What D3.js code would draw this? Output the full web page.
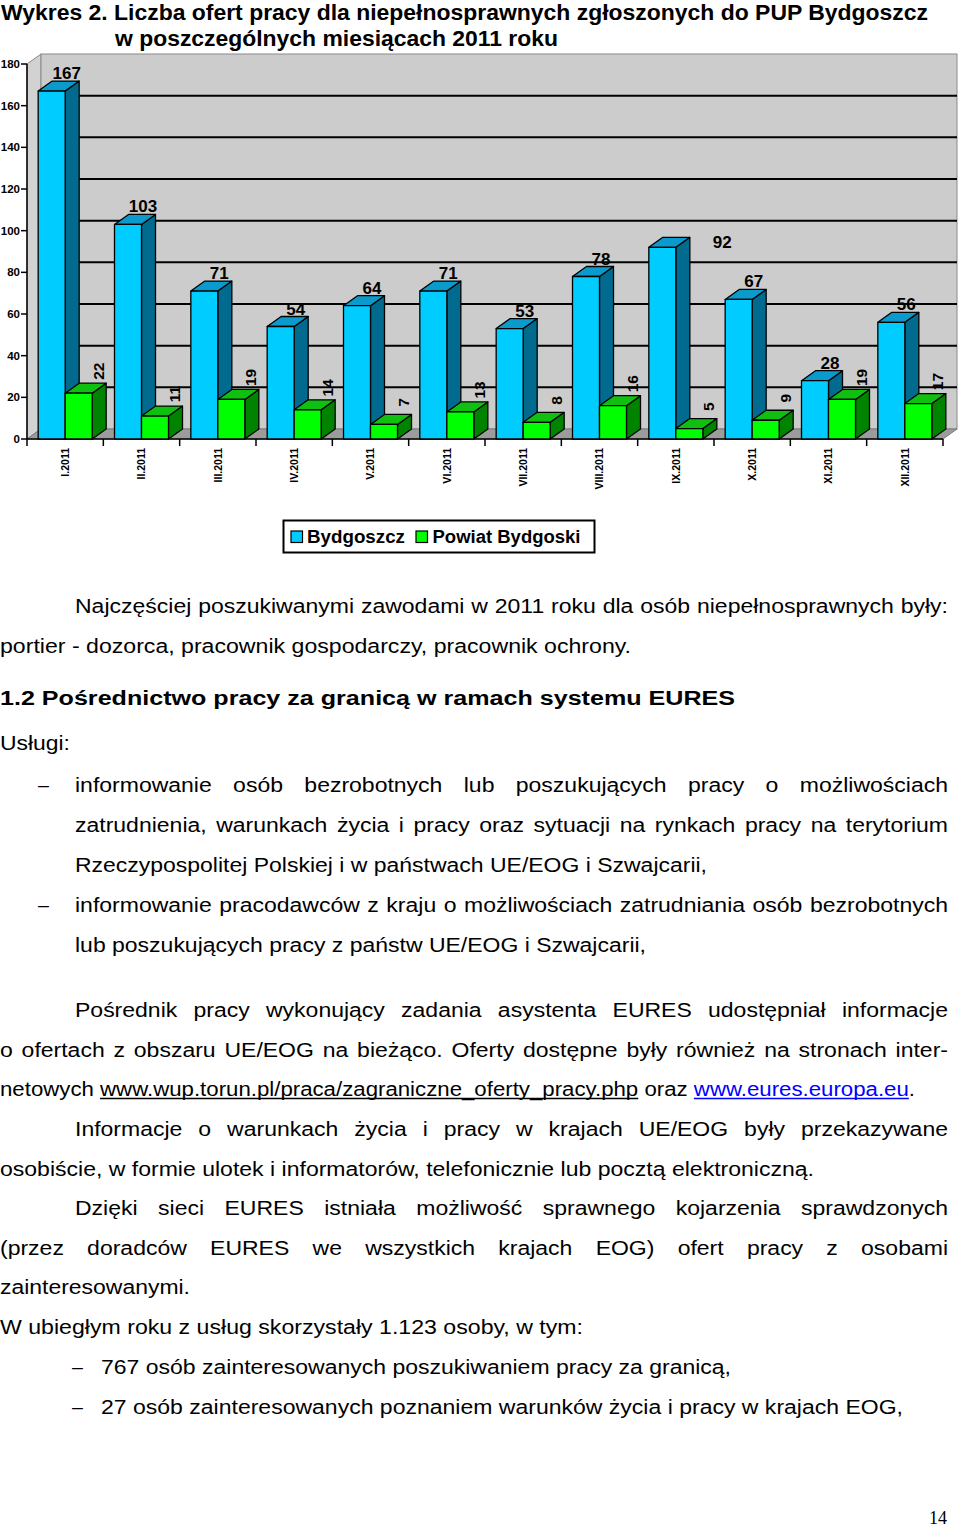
<!DOCTYPE html>
<html><head><meta charset="utf-8">
<script src="https://cdn.jsdelivr.net/npm/d3@7"></script>
<style>body{margin:0;background:#fff} svg{display:block}</style>
</head><body>
<svg id="c" width="960" height="1530"></svg>
<script>
// ---------- data ----------
const months = ["I.2011","II.2011","III.2011","IV.2011","V.2011","VI.2011","VII.2011","VIII.2011","IX.2011","X.2011","XI.2011","XII.2011"];
const bydgoszcz = [167,103,71,54,64,71,53,78,92,67,28,56];
const powiat = [22,11,19,14,7,13,8,16,5,9,19,17];
const seriesNames = ["Bydgoszcz","Powiat Bydgoski"];
const yTicks = [0,20,40,60,80,100,120,140,160,180];
const titleLines = ["Wykres 2. Liczba ofert pracy dla niepełnosprawnych zgłoszonych do PUP Bydgoszcz",
                    "w poszczególnych miesiącach 2011 roku"];

// ---------- body text (content + layout) ----------
const LINK1 = "www.wup.torun.pl/praca/zagraniczne_oferty_pracy.php";
const LINK2 = "www.eures.europa.eu";
const bodyLines = [
  {t:"Najczęściej poszukiwanymi zawodami w 2011 roku dla osób niepełnosprawnych były:", x0:75, x1:948, y:613, j:true},
  {t:"portier - dozorca, pracownik gospodarczy, pracownik ochrony.", x0:0, x1:631, y:653, j:false},
  {t:"1.2 Pośrednictwo pracy za granicą w ramach systemu EURES", x0:0, x1:735, y:705, j:false, bold:true},
  {t:"Usługi:", x0:0, x1:70, y:750, j:false},
  {t:"informowanie osób bezrobotnych lub poszukujących pracy o możliwościach", x0:75, x1:948, y:791.5, j:true, dash:38},
  {t:"zatrudnienia, warunkach życia i pracy oraz sytuacji na rynkach pracy na terytorium", x0:75, x1:948, y:831.5, j:true},
  {t:"Rzeczypospolitej Polskiej i w państwach UE/EOG i Szwajcarii,", x0:75, x1:707, y:871.5, j:false},
  {t:"informowanie pracodawców z kraju o możliwościach zatrudniania osób bezrobotnych", x0:75, x1:948, y:911.5, j:true, dash:38},
  {t:"lub poszukujących pracy z państw UE/EOG i Szwajcarii,", x0:75, x1:646, y:951.5, j:false},
  {t:"Pośrednik pracy wykonujący zadania asystenta EURES udostępniał informacje", x0:75, x1:948, y:1016.5, j:true},
  {t:"o ofertach z obszaru UE/EOG na bieżąco. Oferty dostępne były również na stronach inter-", x0:0, x1:948, y:1056.5, j:true},
  {words:["netowych",[{t:LINK1,u:true}],"oraz",[{t:LINK2,u:true,c:"#0000ff"},{t:"."}]], x0:0, x1:915, y:1096, j:false},
  {t:"Informacje o warunkach życia i pracy w krajach UE/EOG były przekazywane", x0:75, x1:948, y:1136, j:true},
  {t:"osobiście, w formie ulotek i informatorów, telefonicznie lub pocztą elektroniczną.", x0:0, x1:814, y:1176, j:false},
  {t:"Dzięki sieci EURES istniała możliwość sprawnego kojarzenia sprawdzonych", x0:75, x1:948, y:1215, j:true},
  {t:"(przez doradców EURES we wszystkich krajach EOG) ofert pracy z osobami", x0:0, x1:948, y:1255, j:true},
  {t:"zainteresowanymi.", x0:0, x1:190, y:1294, j:false},
  {t:"W ubiegłym roku z usług skorzystały 1.123 osoby, w tym:", x0:0, x1:583, y:1334, j:false},
  {t:"767 osób zainteresowanych poszukiwaniem pracy za granicą,", x0:101, x1:731, y:1374, j:false, dash:72},
  {t:"27 osób zainteresowanych poznaniem warunków życia i pracy w krajach EOG,", x0:101, x1:903, y:1414, j:false, dash:72}
];

// ---------- chart ----------
const svg = d3.select("#c");
const FONT = "'Liberation Sans', Arial, Helvetica, sans-serif";
const DX = 14, DY = -10;
const y = d3.scaleLinear().domain([0,180]).range([439,64]);
const x = d3.scaleBand().domain(months).range([27,943]).paddingInner(0.2926).paddingOuter(0.1463);
const xs = d3.scaleBand().domain(seriesNames).range([0, x.bandwidth()]);
const colors = {
  "Bydgoszcz": {front:"#00ccff", top:"#0a9bcc", side:"#006b8f"},
  "Powiat Bydgoski": {front:"#00ff00", top:"#10c010", side:"#008400"}
};
const labelNudge = {"IX.2011":[45,13]};
const xL = x.range()[0], xR = x.range()[1];

// title
const titleLayout = [{x:1, y:20, w:927},{x:115, y:46, w:443}];
svg.selectAll("text.title").data(titleLines).join("text").attr("class","title")
  .attr("x",(d,i)=>titleLayout[i].x).attr("y",(d,i)=>titleLayout[i].y)
  .attr("textLength",(d,i)=>titleLayout[i].w).attr("lengthAdjust","spacingAndGlyphs")
  .attr("font-family",FONT).attr("font-weight","bold").attr("font-size",22).text(d=>d);

const g = svg.append("g");
// side wall
g.append("path")
  .attr("d",`M${xL},${y(180)}L${xL+DX},${y(180)+DY}L${xL+DX},${y(0)+DY}L${xL},${y(0)}Z`)
  .attr("fill","#d2d2d2").attr("stroke","#8a8a8a");
// back wall
g.append("rect").attr("x",xL+DX).attr("y",y(180)+DY).attr("width",xR-xL).attr("height",y(0)-y(180))
  .attr("fill","#cccccc").attr("stroke","#8a8a8a");
// floor
g.append("path")
  .attr("d",`M${xL},${y(0)}L${xL+DX},${y(0)+DY}L${xR+DX},${y(0)+DY}L${xR},${y(0)}Z`)
  .attr("fill","#9c9c9c").attr("stroke","#7a7a7a");
// gridlines on back wall
g.selectAll("line.grid").data(yTicks.filter(v=>v>0 && v<180)).join("line").attr("class","grid")
  .attr("x1",xL+DX).attr("x2",xR+DX).attr("y1",d=>y(d)+DY).attr("y2",d=>y(d)+DY)
  .attr("stroke","#000").attr("stroke-width",2);

// y axis
g.append("line").attr("x1",xL).attr("x2",xL).attr("y1",y(180)).attr("y2",y(0)).attr("stroke","#000").attr("stroke-width",1.5);
g.selectAll("line.ytick").data(yTicks).join("line").attr("class","ytick")
  .attr("x1",xL-6).attr("x2",xL).attr("y1",d=>y(d)).attr("y2",d=>y(d)).attr("stroke","#000").attr("stroke-width",1.5);
g.selectAll("text.ylab").data(yTicks).join("text").attr("class","ylab")
  .attr("x",xL-7).attr("y",d=>y(d)).attr("dy","0.35em").attr("text-anchor","end")
  .attr("font-family",FONT).attr("font-weight","bold").attr("font-size",11.5).text(d=>d);

// x axis
g.append("line").attr("x1",xL).attr("x2",xR).attr("y1",y(0)).attr("y2",y(0)).attr("stroke","#000").attr("stroke-width",1.5);
const bounds = d3.range(months.length+1).map(i=>xL + i*x.step());
g.selectAll("line.xtick").data(bounds).join("line").attr("class","xtick")
  .attr("x1",d=>d).attr("x2",d=>d).attr("y1",y(0)).attr("y2",y(0)+7).attr("stroke","#000").attr("stroke-width",1.5);
g.selectAll("text.xlab").data(months).join("text").attr("class","xlab")
  .attr("transform",d=>`translate(${x(d)+x.bandwidth()/2},448) rotate(-90)`)
  .attr("dy","0.35em").attr("text-anchor","end")
  .attr("font-family",FONT).attr("font-weight","bold").attr("font-size",10.5).text(d=>d);

// bars
const rows = months.map((m,i)=>({m, vals:[{s:seriesNames[0],v:bydgoszcz[i]},{s:seriesNames[1],v:powiat[i]}]}));
const bars = g.append("g");
rows.forEach(r=>{
  r.vals.forEach(d=>{
    const x0 = x(r.m)+xs(d.s), w = xs.bandwidth(), top = y(d.v), bot = y(0);
    const c = colors[d.s];
    const bg = bars.append("g").attr("stroke","#000").attr("stroke-width",1.3).attr("stroke-linejoin","round");
    bg.append("path").attr("d",`M${x0+w},${top}L${x0+w+DX},${top+DY}L${x0+w+DX},${bot+DY}L${x0+w},${bot}Z`).attr("fill",c.side);
    bg.append("path").attr("d",`M${x0},${top}L${x0+DX},${top+DY}L${x0+w+DX},${top+DY}L${x0+w},${top}Z`).attr("fill",c.top);
    bg.append("rect").attr("x",x0).attr("y",top).attr("width",w).attr("height",bot-top).attr("fill",c.front);
  });
});
// value labels
const lab = g.append("g").attr("font-family",FONT).attr("font-weight","bold");
rows.forEach(r=>{
  const b = r.vals[0], p = r.vals[1];
  const w = xs.bandwidth();
  const nb = labelNudge[r.m] || [0,0];
  lab.append("text").attr("x",x(r.m)+xs(b.s)+w/2+15+nb[0]).attr("y",y(b.v)-12+nb[1])
    .attr("text-anchor","middle").attr("font-size",17).text(b.v);
  lab.append("text").attr("transform",`translate(${x(r.m)+xs(p.s)+w+6},${y(p.v)-22}) rotate(-90)`)
    .attr("dy","0.35em").attr("text-anchor","middle").attr("font-size",15.5).text(p.v);
});

// legend
const lg = svg.append("g");
lg.append("rect").attr("x",283.5).attr("y",520.5).attr("width",311).attr("height",32).attr("fill","#fff").attr("stroke","#000").attr("stroke-width",2);
const legLayout = [{sx:291, tx:307, tw:98},{sx:416, tx:432.5, tw:148}];
seriesNames.forEach((s,i)=>{
  lg.append("rect").attr("x",legLayout[i].sx).attr("y",531).attr("width",11.5).attr("height",11.5)
    .attr("fill",colors[s].front).attr("stroke","#000").attr("stroke-width",1.2);
  lg.append("text").attr("x",legLayout[i].tx).attr("y",543).attr("textLength",legLayout[i].tw).attr("lengthAdjust","spacingAndGlyphs")
    .attr("font-family",FONT).attr("font-weight","bold").attr("font-size",17.5).text(s);
});

// ---------- body text ----------
const BODY_SIZE = 19.6;
const measurer = svg.append("text").attr("font-family",FONT).attr("visibility","hidden");
function mw(str,bold){
  measurer.attr("font-size",BODY_SIZE).attr("font-weight",bold?"bold":"normal").text(str);
  return measurer.node().getComputedTextLength();
}
const prepared = bodyLines.map(L=>{
  const words = (L.words || L.t.split(" ")).map(w=>{
    const segs = typeof w === "string" ? [{t:w}] : w;
    segs.forEach(s=>s.w = mw(s.t, L.bold));
    return {segs, w:d3.sum(segs,s=>s.w)};
  });
  return {L, words, sumW:d3.sum(words,w=>w.w), space:mw("a a",L.bold)-mw("aa",L.bold)};
});
const scales = prepared.filter(p=>!p.L.j && !p.L.bold && p.words.length>1)
  .map(p=>(p.L.x1-p.L.x0)/(p.sumW + (p.words.length-1)*p.space));
const SX = d3.median(scales);
const body = svg.append("g").attr("font-family",FONT).attr("font-size",BODY_SIZE);
prepared.forEach(p=>{
  const L = p.L, n = p.words.length;
  // justified lines use the common glyph scale; ragged lines fit their own natural width
  let sx = L.j ? SX : (L.x1-L.x0)/(p.sumW+(n-1)*p.space);
  if(n===1) sx = (L.x1-L.x0)/p.sumW;
  const gap = n>1 ? (L.x1-L.x0 - sx*p.sumW)/(n-1) : 0;
  let cx = L.x0;
  if(L.dash!==undefined){
    body.append("text").attr("x",L.dash).attr("y",L.y).text("–");
  }
  p.words.forEach(w=>{
    w.segs.forEach(s=>{
      const ww = s.w*sx;
      body.append("text").attr("x",cx).attr("y",L.y)
        .attr("textLength",ww).attr("lengthAdjust","spacingAndGlyphs")
        .attr("font-weight",L.bold?"bold":"normal")
        .attr("fill",s.c||"#000").text(s.t);
      if(s.u){
        body.append("line").attr("x1",cx).attr("x2",cx+ww).attr("y1",L.y+2.5).attr("y2",L.y+2.5)
          .attr("stroke",s.c||"#000").attr("stroke-width",1.3);
      }
      cx += ww;
    });
    cx += gap;
  });
});
measurer.remove();

// page number
svg.append("text").attr("x",947).attr("y",1524).attr("text-anchor","end")
  .attr("font-family","'Liberation Serif', 'Times New Roman', serif").attr("font-size",18).text("14");
</script>
</body></html>
